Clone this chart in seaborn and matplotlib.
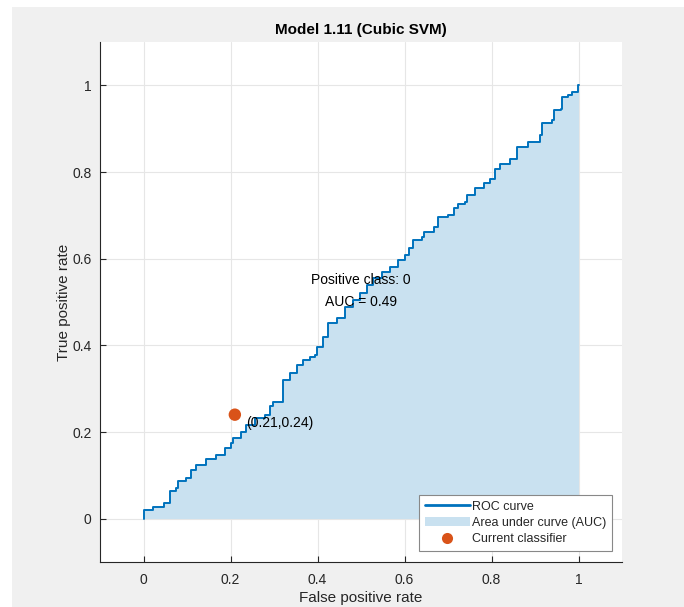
import matplotlib
matplotlib.use("Agg")
import matplotlib.pyplot as plt
import seaborn as sns
import pandas as pd
from matplotlib.patches import Rectangle, Patch
from matplotlib.lines import Line2D

sns.set_theme(style="white")
plt.rcParams['font.family'] = ['Liberation Sans', 'DejaVu Sans']

# ROC curve data
fpr = [0.0, 0.0, 0.021, 0.048, 0.06, 0.075, 0.079, 0.098, 0.11, 0.121, 0.144, 0.167,
       0.187, 0.202, 0.206, 0.225, 0.236, 0.256, 0.279, 0.290, 0.298, 0.321, 0.321,
       0.336, 0.352, 0.367, 0.382, 0.394, 0.398, 0.412, 0.425, 0.444, 0.463, 0.482,
       0.497, 0.513, 0.528, 0.548, 0.567, 0.586, 0.600, 0.610, 0.620, 0.640, 0.644,
       0.667, 0.678, 0.700, 0.713, 0.724, 0.740, 0.744, 0.763, 0.782, 0.797, 0.809,
       0.820, 0.843, 0.859, 0.885, 0.912, 0.916, 0.940, 0.943, 0.959, 0.963, 0.975,
       0.986, 0.998, 1.0]
tpr = [0.0, 0.021, 0.028, 0.036, 0.063, 0.071, 0.086, 0.094, 0.113, 0.124, 0.137, 0.147,
       0.163, 0.174, 0.186, 0.201, 0.217, 0.232, 0.240, 0.259, 0.270, 0.274, 0.320,
       0.336, 0.355, 0.366, 0.374, 0.378, 0.397, 0.420, 0.451, 0.462, 0.489, 0.505,
       0.520, 0.539, 0.555, 0.570, 0.581, 0.597, 0.608, 0.625, 0.643, 0.649, 0.662,
       0.674, 0.696, 0.700, 0.716, 0.727, 0.731, 0.747, 0.762, 0.775, 0.785, 0.808,
       0.819, 0.831, 0.858, 0.869, 0.885, 0.912, 0.919, 0.942, 0.946, 0.973, 0.978,
       0.985, 1.0, 1.0]
current_fpr = [0.21]
current_tpr = [0.24]
auc_value = 0.49
positive_class = 0
title_text = "Model 1.11 (Cubic SVM)"
ticks = [0, 0.2, 0.4, 0.6, 0.8, 1]
tick_labels = ["0", "0.2", "0.4", "0.6", "0.8", "1"]

line_color = "#0072BD"
fill_color = "#c9e1f0"
dot_color = "#D95319"
text_color = "#262626"

df = pd.DataFrame({"fpr": fpr, "tpr": tpr})
cur = pd.DataFrame({"fpr": current_fpr, "tpr": current_tpr})

fig = plt.figure(figsize=(6.84, 6.07), dpi=100, facecolor="white")
fig.patches.append(Rectangle((12 / 684, 0), 1, 600 / 607, transform=fig.transFigure,
                             facecolor="#f0f0f0", edgecolor="none", zorder=-10))
ax = fig.add_axes([100 / 684, 1 - 562 / 607, 522 / 684, 520 / 607])
ax.set_facecolor("white")

ax.fill_between(df["fpr"], df["tpr"], step="post", color=fill_color, linewidth=0, zorder=2)
sns.lineplot(data=df, x="fpr", y="tpr", sort=False, estimator=None, ax=ax,
             color=line_color, linewidth=1.4, drawstyle="steps-post", zorder=3)
sns.scatterplot(data=cur, x="fpr", y="tpr", ax=ax, color=dot_color, s=80,
                edgecolor="none", zorder=4)

ax.text(0.5, 0.55, f"Positive class: {positive_class}", ha="center", va="center",
        fontsize=10, color="black", zorder=5)
ax.text(0.5, 0.50, f"AUC = {auc_value}", ha="center", va="center",
        fontsize=10, color="black", zorder=5)
ax.text(current_fpr[0] + 0.025, current_tpr[0] - 0.02,
        f"({current_fpr[0]},{current_tpr[0]})", ha="left", va="center",
        fontsize=10, color="black", zorder=5)

ax.set_xlim(-0.1, 1.1)
ax.set_ylim(-0.1, 1.1)
ax.set_xticks(ticks)
ax.set_xticklabels(tick_labels)
ax.set_yticks(ticks)
ax.set_yticklabels(tick_labels)
ax.grid(True, color="#e6e6e6", linewidth=0.8, zorder=0)
ax.set_axisbelow(True)
for s in ["top", "right"]:
    ax.spines[s].set_visible(False)
for s in ["left", "bottom"]:
    ax.spines[s].set_color(text_color)
    ax.spines[s].set_linewidth(0.8)
ax.tick_params(axis="x", pad=8)
ax.tick_params(axis="y", pad=6)
ax.tick_params(axis="both", direction="in", length=4, width=0.8, color=text_color,
               labelcolor=text_color, labelsize=10, left=True, bottom=True)

ax.set_xlabel("False positive rate", fontsize=11, color=text_color, labelpad=3)
ax.set_ylabel("True positive rate", fontsize=11, color=text_color, labelpad=1)
ax.set_title(title_text, fontsize=11, fontweight="bold", color="black", pad=6)

handles = [Line2D([0], [0], color=line_color, linewidth=2),
           Patch(facecolor=fill_color, edgecolor="none"),
           Line2D([0], [0], marker="o", color="none", markerfacecolor=dot_color,
                  markeredgecolor="none", markersize=8)]
labels = ["ROC curve", "Area under curve (AUC)", "Current classifier"]
leg = ax.legend(handles, labels, loc="lower right", bbox_to_anchor=(1 - 10 / 522, 11 / 520),
                borderaxespad=0, fontsize=9, handlelength=3.6, handletextpad=0.2,
                labelspacing=0.35, borderpad=0.45, fancybox=False, framealpha=1,
                edgecolor="#888888")
leg.get_frame().set_linewidth(0.8)

fig.savefig("out.png", dpi=100, facecolor=fig.get_facecolor())
